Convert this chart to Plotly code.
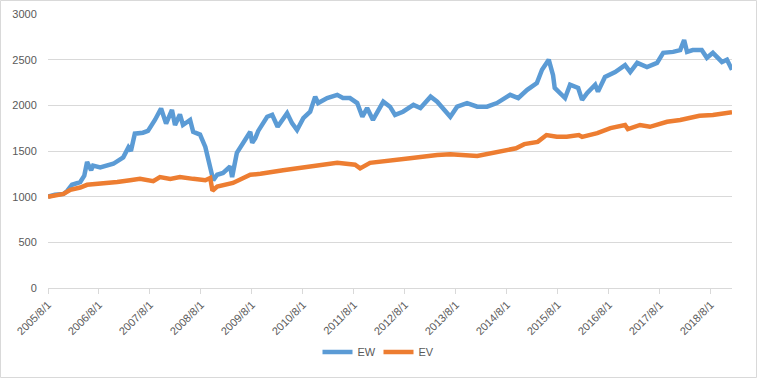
import plotly.graph_objects as go

ew_dates = ["2005-08-01","2005-09-20","2005-11-20","2005-12-15","2006-01-20","2006-03-20","2006-04-18","2006-05-08",
            "2006-06-06","2006-06-20","2006-08-10","2006-11-12","2007-01-22","2007-02-28","2007-03-18","2007-04-15",
            "2007-06-12","2007-07-18","2007-09-06","2007-10-20","2007-11-25","2008-01-06","2008-01-28","2008-03-03",
            "2008-03-25","2008-05-15","2008-06-06","2008-07-25","2008-09-01","2008-10-01","2008-10-28","2008-11-25",
            "2009-01-06","2009-02-26","2009-03-12","2009-04-15","2009-06-01","2009-07-20","2009-08-03","2009-08-25",
            "2009-09-15","2009-11-18","2009-12-24","2010-02-01","2010-04-10","2010-05-15","2010-06-20","2010-08-04",
            "2010-09-22","2010-10-28","2010-11-18","2011-01-22","2011-04-04","2011-05-15","2011-07-04","2011-08-25",
            "2011-10-01","2011-11-04","2011-12-16","2012-02-28","2012-04-16","2012-05-22","2012-07-18","2012-10-01",
            "2012-11-20","2013-02-01","2013-03-20","2013-04-25","2013-06-22","2013-08-10","2013-10-20","2014-01-01",
            "2014-03-12","2014-05-22","2014-08-25","2014-10-22","2014-12-25","2015-03-04","2015-04-10","2015-05-28",
            "2015-06-28","2015-07-10","2015-09-01","2015-09-22","2015-10-28","2015-12-25","2016-01-22","2016-02-28",
            "2016-04-25","2016-05-15","2016-07-04","2016-09-15","2016-11-25","2017-01-01","2017-02-20","2017-05-01",
            "2017-07-12","2017-08-25","2017-11-04","2017-12-25","2018-01-22","2018-02-12","2018-03-25","2018-05-28",
            "2018-07-04","2018-08-16","2018-10-20","2018-11-25","2018-12-31"]
ew_values = [1000,1020,1030,1060,1130,1160,1230,1380,
             1290,1340,1320,1360,1430,1540,1500,1690,
             1700,1720,1840,1965,1800,1950,1785,1900,
             1785,1840,1710,1680,1545,1330,1180,1240,
             1260,1330,1215,1480,1590,1710,1590,1640,
             1720,1875,1895,1765,1915,1805,1730,1860,
             1930,2095,2025,2080,2115,2080,2080,2025,
             1875,1970,1840,2040,1985,1895,1930,2005,
             1970,2095,2040,1970,1875,1985,2025,1985,
             1985,2025,2115,2080,2170,2245,2390,2500,
             2330,2190,2115,2080,2225,2190,2060,2135,
             2225,2150,2310,2365,2440,2365,2465,2420,
             2465,2575,2585,2605,2715,2585,2605,2605,
             2520,2575,2475,2500,2390]

ev_dates = ["2005-08-01","2005-09-20","2005-11-20","2006-01-08","2006-03-20","2006-05-08","2006-08-10","2006-12-10",
            "2007-03-12","2007-05-22","2007-08-25","2007-10-12","2007-12-25","2008-03-03","2008-06-06","2008-09-01",
            "2008-10-06","2008-10-22","2008-11-25","2009-03-18","2009-07-20","2009-10-01","2010-03-12","2010-11-12",
            "2011-04-04","2011-08-10","2011-09-15","2011-11-25","2012-02-28","2012-09-06","2013-03-20","2013-06-22",
            "2014-01-01","2014-05-22","2014-10-06","2014-12-04","2015-03-10","2015-05-12","2015-07-25","2015-10-04",
            "2015-12-30","2016-01-22","2016-05-10","2016-08-12","2016-11-25","2016-12-15","2017-03-12","2017-05-22",
            "2017-09-22","2017-12-25","2018-05-12","2018-08-16","2018-12-31"]
ev_values = [1000,1010,1030,1075,1100,1130,1140,1160,
             1180,1195,1170,1215,1195,1215,1195,1180,
             1205,1065,1110,1150,1240,1250,1290,1345,
             1370,1350,1310,1370,1390,1420,1455,1465,
             1445,1490,1530,1575,1600,1675,1655,1655,
             1675,1655,1695,1750,1785,1740,1785,1765,
             1820,1840,1885,1895,1925]

tick_dates = ["2005-08-01","2006-08-01","2007-08-01","2008-08-01","2009-08-01","2010-08-01","2011-08-01",
              "2012-08-01","2013-08-01","2014-08-01","2015-08-01","2016-08-01","2017-08-01","2018-08-01"]
tick_labels = ["2005/8/1","2006/8/1","2007/8/1","2008/8/1","2009/8/1","2010/8/1","2011/8/1",
               "2012/8/1","2013/8/1","2014/8/1","2015/8/1","2016/8/1","2017/8/1","2018/8/1"]

fig = go.Figure()
fig.add_trace(go.Scatter(x=ew_dates, y=ew_values, mode="lines", name="EW",
                         line=dict(color="#5b9bd5", width=4.5)))
fig.add_trace(go.Scatter(x=ev_dates, y=ev_values, mode="lines", name="EV",
                         line=dict(color="#ed7d31", width=4.5)))

font = dict(family="Liberation Sans, Arial, sans-serif", size=11, color="#595959")
W, H = 757, 378
ml, mr, mt, mb = 48, 25, 14, 90
pw, ph = W - ml - mr, H - mt - mb

fig.update_layout(
    template="none",
    width=W, height=H,
    margin=dict(l=ml, r=mr, t=mt, b=mb, pad=0, autoexpand=False),
    paper_bgcolor="white", plot_bgcolor="white",
    font=font,
    showlegend=True,
    legend=dict(orientation="h", x=(W / 2 - ml) / pw, xanchor="center", y=-0.234, yanchor="middle",
                font=font, bgcolor="rgba(0,0,0,0)", entrywidth=16, entrywidthmode="pixels"),
    xaxis=dict(type="date", range=["2005-08-01", "2018-12-31"], automargin=False,
               tickvals=tick_dates, ticktext=tick_labels, tickangle=-45,
               showgrid=False, showline=True, linecolor="#d9d9d9", linewidth=1,
               ticks="outside", ticklen=5, tickcolor="#d9d9d9", zeroline=False,
               tickfont=font),
    yaxis=dict(range=[0, 3000], dtick=500, tick0=0, showgrid=True, gridcolor="#d9d9d9",
               gridwidth=1, showline=False, zeroline=False, ticks="outside", ticklen=8,
               automargin=False, tickcolor="rgba(0,0,0,0)", tickfont=font),
    shapes=[dict(type="rect", xref="paper", yref="paper",
                 x0=(0.5 - ml) / pw, x1=(W - 0.5 - ml) / pw,
                 y0=(H - mb - (H - 0.5)) / ph, y1=(H - mb - 0.5) / ph,
                 line=dict(color="#d9d9d9", width=1), fillcolor="rgba(0,0,0,0)", layer="below")],
)

fig.write_html("out.html", config={"displayModeBar": False},
               post_script="document.body.style.margin='0';document.body.style.overflow='hidden';")
